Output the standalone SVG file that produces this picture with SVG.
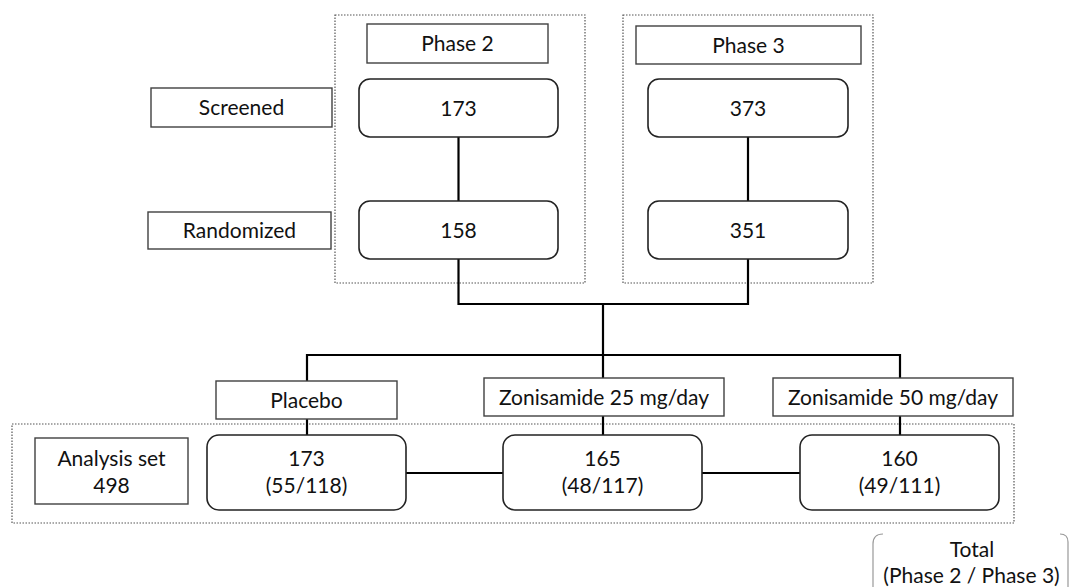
<svg xmlns="http://www.w3.org/2000/svg" width="1070" height="587" viewBox="0 0 1070 587">
  <style>
    text { font-family: Lato, "Open Sans", "Liberation Sans", sans-serif; font-size: 21px; fill: #111; text-anchor: middle; }
    .lbl { fill: #fff; stroke: #404040; stroke-width: 1.4; }
    .num { fill: #fff; stroke: #222; stroke-width: 1.6; }
    .grp { fill: none; stroke: #555; stroke-width: 1.2; stroke-dasharray: 1.5 1.5; }
    .conn { fill: none; stroke: #000; stroke-width: 2.2; }
    .brk { fill: none; stroke: #999; stroke-width: 1.2; }
  </style>

  <g id="groups">
    <rect id="phase2-group" class="grp" x="335" y="15" width="250" height="268"/>
    <rect id="phase3-group" class="grp" x="623" y="15" width="250" height="268"/>
    <rect id="analysis-group" class="grp" x="12" y="424" width="1002" height="99"/>
  </g>

  <g id="connectors">
    <line class="conn" x1="458.5" y1="137" x2="458.5" y2="201"/>
    <line class="conn" x1="748" y1="137" x2="748" y2="201"/>
    <polyline class="conn" points="458.5,259 458.5,304 748,304 748,259"/>
    <line class="conn" x1="603" y1="304" x2="603" y2="355"/>
    <polyline class="conn" points="307,381 307,355 900,355 900,378"/>
    <line class="conn" x1="603" y1="355" x2="603" y2="378"/>
    <line class="conn" x1="307" y1="419" x2="307" y2="435"/>
    <line class="conn" x1="603" y1="416" x2="603" y2="435"/>
    <line class="conn" x1="900" y1="416" x2="900" y2="435"/>
    <line class="conn" x1="406" y1="473" x2="503" y2="473"/>
    <line class="conn" x1="702" y1="473" x2="800" y2="473"/>
  </g>

  <g id="phase2-label">
    <rect class="lbl" x="367" y="24" width="181" height="39"/>
    <text x="457.5" y="51">Phase 2</text>
  </g>
  <g id="phase3-label">
    <rect class="lbl" x="636" y="26" width="225" height="38"/>
    <text x="748.5" y="52.5">Phase 3</text>
  </g>

  <g id="screened-label">
    <rect class="lbl" x="151" y="88" width="181" height="39"/>
    <text x="241.5" y="115">Screened</text>
  </g>
  <g id="randomized-label">
    <rect class="lbl" x="148" y="212" width="183" height="37"/>
    <text x="239.5" y="238">Randomized</text>
  </g>

  <g id="p2-screened">
    <rect class="num" x="359" y="79" width="199" height="58" rx="11"/>
    <text x="458.5" y="115.5">173</text>
  </g>
  <g id="p2-randomized">
    <rect class="num" x="359" y="201" width="199" height="58" rx="11"/>
    <text x="458.5" y="237.5">158</text>
  </g>
  <g id="p3-screened">
    <rect class="num" x="648" y="79" width="200" height="58" rx="11"/>
    <text x="748" y="115.5">373</text>
  </g>
  <g id="p3-randomized">
    <rect class="num" x="648" y="201" width="200" height="58" rx="11"/>
    <text x="748" y="237.5">351</text>
  </g>

  <g id="placebo-label">
    <rect class="lbl" x="216" y="381" width="181" height="38"/>
    <text x="306.5" y="407.5">Placebo</text>
  </g>
  <g id="zon25-label">
    <rect class="lbl" x="484" y="378" width="240" height="38"/>
    <text x="604" y="404.5">Zonisamide 25 mg/day</text>
  </g>
  <g id="zon50-label">
    <rect class="lbl" x="773" y="378" width="240" height="38"/>
    <text x="893" y="404.5">Zonisamide 50 mg/day</text>
  </g>

  <g id="analysis-label">
    <rect class="lbl" x="35" y="438" width="153" height="66"/>
    <text x="111.5" y="466">Analysis set</text>
    <text x="111.5" y="493">498</text>
  </g>

  <g id="placebo-n">
    <rect class="num" x="207" y="435" width="199" height="75" rx="12"/>
    <text x="306.5" y="466">173</text>
    <text x="306.5" y="493">(55/118)</text>
  </g>
  <g id="zon25-n">
    <rect class="num" x="503" y="435" width="199" height="75" rx="12"/>
    <text x="602.5" y="466">165</text>
    <text x="602.5" y="493">(48/117)</text>
  </g>
  <g id="zon50-n">
    <rect class="num" x="800" y="435" width="199" height="75" rx="12"/>
    <text x="899.5" y="466">160</text>
    <text x="899.5" y="493">(49/111)</text>
  </g>

  <g id="legend-total">
    <path class="brk" d="M883,534 Q873,534 873,544 L873,587"/>
    <path class="brk" d="M1060,534 Q1068,534 1068,542 L1068,587"/>
    <text x="972" y="557">Total</text>
    <text x="971.5" y="583">(Phase 2 / Phase 3)</text>
  </g>
</svg>
